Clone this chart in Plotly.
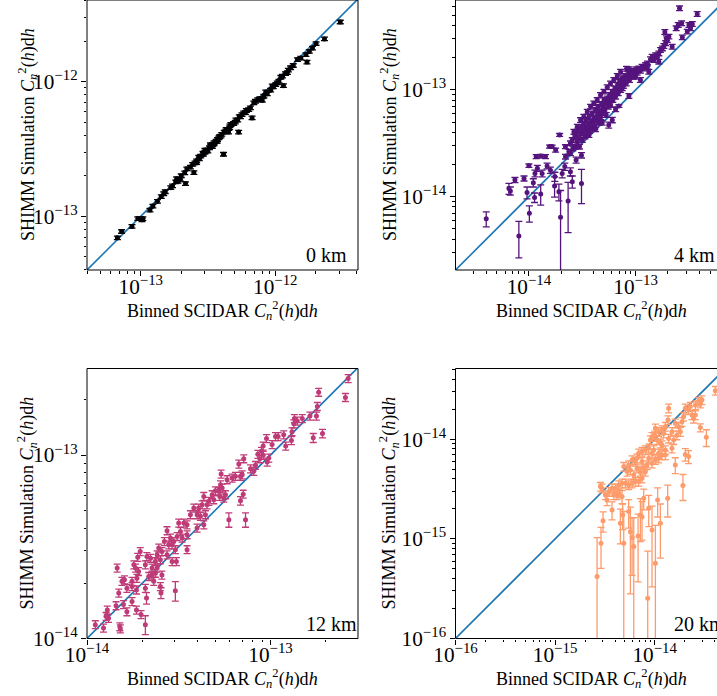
import plotly.graph_objects as go

FONT = "Liberation Serif"
W, H = 717, 696

# ---------------- 0 km ----------------
x0 = [6.7e-14, 7.2e-14, 8.6e-14, 9.5e-14, 1.035e-13, 1.02e-13, 1.17e-13, 1.23e-13, 1.33e-13, 1.42e-13,
      1.48e-13, 1.52e-13, 1.67e-13, 1.72e-13, 1.82e-13, 1.89e-13, 1.97e-13, 2.15e-13, 2.12e-13, 2.34e-13,
      2.48e-13, 2.43e-13, 2.53e-13, 2.60e-13, 2.72e-13, 2.79e-13, 2.92e-13, 3.00e-13, 3.09e-13, 3.24e-13,
      3.31e-13, 3.43e-13, 3.51e-13, 3.63e-13, 3.72e-13, 3.80e-13, 3.94e-13, 4.12e-13, 4.00e-13, 4.17e-13,
      4.32e-13, 4.49e-13, 4.57e-13, 4.68e-13, 4.90e-13, 5.04e-13, 5.34e-13, 5.25e-13, 5.50e-13, 5.65e-13,
      5.82e-13, 6.10e-13, 6.34e-13, 6.53e-13, 6.72e-13, 6.92e-13, 7.12e-13, 7.41e-13, 7.67e-13, 7.99e-13,
      8.22e-13, 8.71e-13, 9.23e-13, 9.66e-13, 1.006e-12, 1.035e-12, 1.065e-12, 1.15e-12, 1.13e-12, 1.19e-12,
      1.23e-12, 1.30e-12, 1.36e-12, 1.46e-12, 1.55e-12, 1.69e-12, 1.72e-12, 1.79e-12, 1.89e-12, 2.01e-12,
      2.32e-12, 3.04e-12,
      2.2e-13, 2.6e-13, 2.9e-13, 3.15e-13, 3.3e-13, 3.5e-13, 3.7e-13, 3.85e-13, 4.3e-13, 4.6e-13,
      5.1e-13, 5.4e-13, 6.0e-13, 2.0e-13, 1.85e-13, 2.7e-13, 3.0e-13, 3.4e-13, 1.1e-12, 1.25e-12,
      8.5e-13, 9.5e-13]
y0 = [6.9e-14, 7.7e-14, 8.4e-14, 9.6e-14, 9.6e-14, 9.4e-14, 1.11e-13, 1.19e-13, 1.29e-13, 1.40e-13,
      1.47e-13, 1.52e-13, 1.63e-13, 1.68e-13, 1.80e-13, 1.82e-13, 1.88e-13, 1.75e-13, 2.10e-13, 2.32e-13,
      2.11e-13, 2.43e-13, 2.49e-13, 2.58e-13, 2.67e-13, 2.80e-13, 2.88e-13, 2.99e-13, 3.10e-13, 3.23e-13,
      3.32e-13, 3.41e-13, 3.52e-13, 3.61e-13, 3.72e-13, 3.83e-13, 3.94e-13, 2.89e-13, 4.06e-13, 4.22e-13,
      4.42e-13, 4.22e-13, 4.54e-13, 4.81e-13, 4.89e-13, 5.00e-13, 4.22e-13, 5.18e-13, 5.48e-13, 5.70e-13,
      5.86e-13, 6.11e-13, 6.21e-13, 6.40e-13, 5.38e-13, 6.97e-13, 7.16e-13, 7.36e-13, 7.50e-13, 7.28e-13,
      7.80e-13, 8.13e-13, 8.65e-13, 9.15e-13, 9.52e-13, 9.80e-13, 1.01e-12, 9.35e-13, 1.10e-12, 1.15e-12,
      1.17e-12, 1.27e-12, 1.32e-12, 1.46e-12, 1.50e-12, 1.59e-12, 1.40e-12, 1.68e-12, 1.78e-12, 1.92e-12,
      2.08e-12, 2.78e-12,
      2.25e-13, 2.5e-13, 2.95e-13, 3.05e-13, 3.4e-13, 3.45e-13, 3.6e-13, 3.9e-13, 4.3e-13, 4.7e-13,
      5.2e-13, 5.5e-13, 5.9e-13, 2.0e-13, 1.9e-13, 2.75e-13, 3.1e-13, 3.3e-13, 1.08e-12, 1.22e-12,
      8.4e-13, 9.3e-13]

# ---------------- 4 km ----------------
x4 = [2.37e-14, 2.45e-14, 2.55e-14, 2.58e-14, 2.70e-14, 2.74e-14, 2.77e-14, 2.84e-14, 2.90e-14, 2.94e-14,
      2.98e-14, 3.05e-14, 3.11e-14, 3.16e-14, 3.21e-14, 3.27e-14, 3.35e-14, 3.40e-14, 3.44e-14, 3.52e-14,
      3.60e-14, 3.65e-14, 3.70e-14, 3.78e-14, 3.86e-14, 3.92e-14, 3.98e-14, 4.06e-14, 4.15e-14, 4.21e-14,
      4.28e-14, 4.37e-14, 4.46e-14, 4.53e-14, 4.59e-14, 4.69e-14, 4.80e-14, 4.86e-14, 4.93e-14, 5.05e-14,
      5.15e-14, 5.22e-14, 5.30e-14, 5.42e-14, 5.53e-14, 5.62e-14, 5.70e-14, 5.82e-14, 5.95e-14, 6.04e-14,
      6.12e-14, 6.25e-14, 6.40e-14, 6.49e-14, 6.62e-14, 6.78e-14, 6.87e-14, 6.97e-14, 7.07e-14, 7.23e-14,
      7.38e-14, 7.49e-14, 7.66e-14, 7.82e-14, 8.05e-14, 8.17e-14, 8.34e-14, 8.53e-14, 8.65e-14, 8.77e-14,
      8.97e-14, 9.16e-14, 9.43e-14, 9.64e-14, 9.84e-14, 1.01e-13, 1.035e-13, 1.07e-13, 1.11e-13, 1.15e-13,
      1.20e-13, 1.24e-13, 1.29e-13, 1.38e-13, 1.43e-13, 1.48e-13, 1.54e-13, 1.60e-13, 1.65e-13, 1.71e-13,
      1.78e-13, 1.84e-13, 1.91e-13, 1.98e-13, 1.94e-13, 2.05e-13, 1.88e-13, 2.40e-13, 2.51e-13, 2.70e-13,
      3.16e-13, 3.27e-13, 3.05e-13, 3.40e-13, 2.58e-13, 3.78e-13,
      2.64e-14, 2.84e-14, 3.05e-14, 3.27e-14, 3.52e-14, 3.78e-14, 4.06e-14, 4.37e-14, 4.69e-14, 5.05e-14,
      5.42e-14, 5.82e-14, 6.25e-14, 6.73e-14, 7.23e-14, 8.22e-14, 3.65e-14, 4.21e-14, 4.86e-14, 6.49e-14,
      8.65e-14, 1.11e-13, 1.33e-13, 1.65e-13, 2.20e-13, 2.74e-13, 2.45e-14, 2.20e-14, 3.52e-14, 4.53e-14,
      6.04e-14, 7.49e-14, 9.99e-14, 1.29e-13]
y4 = [2.64e-14, 3.16e-14, 3.39e-14, 2.83e-14, 3.65e-14, 2.94e-14, 3.92e-14, 3.27e-14, 4.21e-14, 3.52e-14,
      2.94e-14, 3.92e-14, 4.52e-14, 3.39e-14, 4.06e-14, 4.86e-14, 3.65e-14, 4.37e-14, 5.22e-14, 3.92e-14,
      4.69e-14, 5.61e-14, 4.15e-14, 5.04e-14, 4.37e-14, 6.03e-14, 4.79e-14, 5.42e-14, 4.52e-14, 6.49e-14,
      5.15e-14, 5.82e-14, 6.97e-14, 4.93e-14, 6.25e-14, 5.53e-14, 7.38e-14, 6.03e-14, 6.72e-14, 8.04e-14,
      6.49e-14, 7.48e-14, 5.82e-14, 8.34e-14, 6.97e-14, 7.76e-14, 8.96e-14, 7.23e-14, 8.51e-14, 9.64e-14,
      8.04e-14, 9.16e-14, 1.035e-13, 8.65e-14, 9.98e-14, 1.11e-13, 9.29e-14, 1.06e-13, 1.19e-13, 9.98e-14,
      1.15e-13, 1.29e-13, 1.09e-13, 1.24e-13, 1.35e-13, 1.15e-13, 1.29e-13, 1.41e-13, 1.56e-13, 1.24e-13,
      1.38e-13, 1.48e-13, 1.33e-13, 1.51e-13, 1.38e-13, 1.56e-13, 1.45e-13, 1.59e-13, 1.51e-13, 1.65e-13,
      1.59e-13, 1.71e-13, 1.77e-13, 1.94e-13, 2.05e-13, 1.91e-13, 2.12e-13, 2.02e-13, 2.20e-13, 2.37e-13,
      2.45e-13, 2.58e-13, 2.74e-13, 2.94e-13, 3.05e-13, 3.16e-13, 3.49e-13, 3.78e-13, 4.06e-13, 4.21e-13,
      4.06e-13, 3.78e-13, 3.52e-13, 4.15e-13, 5.82e-13, 5.15e-13,
      4.06e-14, 4.52e-14, 5.22e-14, 5.61e-14, 6.25e-14, 6.97e-14, 7.48e-14, 8.04e-14, 8.96e-14, 9.64e-14,
      1.06e-13, 1.15e-13, 1.24e-13, 1.35e-13, 1.48e-13, 1.58e-13, 3.78e-14, 4.27e-14, 4.93e-14, 6.58e-14,
      8.77e-14, 1.24e-13, 1.48e-13, 1.84e-13, 2.54e-13, 3.11e-13, 2.55e-14, 2.37e-14, 4.37e-14, 5.53e-14,
      8.04e-14, 1.035e-13, 1.33e-13, 1.65e-13]
# 4 km points with wide error bars
x4w = [3.98e-15, 8.05e-15, 1.98e-14, 2.33e-14, 3.11e-14, 1.01e-14, 1.13e-14, 1.29e-14, 1.74e-14, 1.91e-14,
       6.5e-15, 6.7e-15, 7.4e-15, 9.0e-15, 9.6e-15, 1.0e-14, 1.10e-14, 1.14e-14, 1.20e-14, 1.33e-14,
       1.43e-14, 1.48e-14, 1.59e-14, 1.75e-14, 2.05e-14, 2.17e-14, 2.45e-14, 2.55e-14, 2.77e-14, 3.11e-14,
       1.29e-14, 1.65e-14, 1.94e-14, 2.20e-14, 1.78e-14, 5.6e-14, 6.97e-14, 6.04e-14, 1.17e-14, 1.56e-14]
y4w = [6.2e-15, 4.27e-15, 6.4e-15, 9.1e-15, 1.33e-14, 6.97e-15, 9.8e-15, 1.06e-14, 1.26e-14, 1.11e-14,
       1.19e-14, 1.13e-14, 1.43e-14, 1.48e-14, 1.09e-14, 1.95e-14, 1.35e-14, 1.65e-14, 1.84e-14, 1.65e-14,
       2.37e-14, 1.94e-14, 1.77e-14, 1.54e-14, 1.65e-14, 1.91e-14, 1.71e-14, 1.38e-14, 2.20e-14, 2.44e-14,
       2.40e-14, 2.94e-14, 3.78e-14, 2.94e-14, 2.73e-14, 4.69e-14, 7.06e-14, 5.22e-14, 2.37e-14, 2.94e-14]
e4w = [1.0e-15, 1.6e-15, 5.0e-15, 4.5e-15, 4.7e-15, 1.2e-15, 1.0e-15, 2.3e-15, 2.7e-15, 2.0e-15,
       1.4e-15, 1.0e-15, 0.8e-15, 0.8e-15, 1.4e-15, 0.7e-15, 1.2e-15, 1.2e-15, 1.2e-15, 1.2e-15,
       1.0e-15, 1.2e-15, 1.2e-15, 1.5e-15, 1.5e-15, 1.5e-15, 1.5e-15, 1.8e-15, 1.4e-15, 1.4e-15,
       0.9e-15, 1.0e-15, 1.2e-15, 1.2e-15, 1.2e-15, 3.0e-15, 2.0e-15, 3.0e-15, 1.0e-15, 1.0e-15]

# ---------------- 12 km ----------------
x12 = [2.65e-13, 2.56e-13, 1.83e-13, 1.80e-13, 1.78e-13, 1.64e-13, 1.49e-13, 1.35e-13, 1.40e-13, 1.31e-13,
       1.34e-13, 1.30e-13, 1.21e-13, 1.18e-13, 1.10e-13, 1.065e-13, 9.51e-14, 9.12e-14, 8.93e-14, 1.02e-13,
       9.79e-14, 9.59e-14, 9.12e-14, 8.75e-14, 8.53e-14, 8.28e-14, 8.11e-14, 7.78e-14, 7.15e-14, 6.72e-14,
       7.01e-14, 6.86e-14, 6.44e-14, 6.18e-14, 5.80e-14, 5.38e-14, 5.34e-14, 5.45e-14, 5.23e-14, 5.01e-14,
       4.81e-14, 4.91e-14, 5.68e-14, 5.57e-14, 5.29e-14, 7.10e-14, 4.33e-14, 4.24e-14, 4.51e-14, 4.61e-14,
       4.06e-14, 3.82e-14, 3.98e-14, 4.15e-14, 4.42e-14, 3.66e-14, 3.51e-14, 3.37e-14, 3.16e-14, 3.23e-14,
       3.51e-14, 3.30e-14, 3.10e-14, 2.97e-14, 2.85e-14, 2.73e-14, 2.79e-14, 2.64e-14, 2.56e-14, 2.46e-14,
       2.41e-14, 2.51e-14, 2.36e-14, 2.22e-14, 2.12e-14, 2.08e-14, 1.95e-14, 1.89e-14, 1.80e-14, 1.91e-14,
       1.84e-14, 1.76e-14, 1.87e-14, 2.26e-14, 2.41e-14, 2.56e-14, 2.73e-14, 2.91e-14, 3.07e-14, 3.51e-14,
       3.98e-14, 4.33e-14, 2.91e-14, 3.03e-14, 1.46e-14, 1.55e-14, 1.60e-14, 1.49e-14, 1.65e-14, 1.76e-14,
       1.86e-14, 2.08e-14, 2.31e-14, 2.51e-14, 1.58e-14, 1.76e-14, 1.86e-14, 1.65e-14, 1.44e-14, 1.29e-14,
       1.27e-14, 1.31e-14, 1.23e-14, 1.11e-14, 1.51e-14, 1.52e-14, 1.97e-14, 2.26e-14, 2.17e-14, 2.36e-14]
y12 = [2.61e-13, 2.06e-13, 2.20e-13, 1.84e-13, 1.63e-13, 1.63e-13, 1.58e-13, 1.58e-13, 1.53e-13, 1.34e-13,
       1.48e-13, 1.20e-13, 1.12e-13, 1.29e-13, 1.26e-13, 1.26e-13, 1.23e-13, 1.12e-13, 1.047e-13, 1.14e-13,
       9.63e-14, 9.16e-14, 9.96e-14, 9.55e-14, 1.01e-13, 8.78e-14, 8.15e-14, 8.42e-14, 9.55e-14, 8.93e-14,
       7.81e-14, 7.65e-14, 7.65e-14, 7.49e-14, 7.34e-14, 7.88e-14, 6.89e-14, 6.61e-14, 6.34e-14, 6.39e-14,
       6.08e-14, 5.71e-14, 6.08e-14, 5.83e-14, 5.95e-14, 6.12e-14, 5.95e-14, 5.36e-14, 5.36e-14, 5.59e-14,
       5.14e-14, 5.14e-14, 4.73e-14, 4.63e-14, 4.73e-14, 4.73e-14, 4.17e-14, 4.26e-14, 4.26e-14, 3.83e-14,
       3.68e-14, 3.53e-14, 3.60e-14, 3.38e-14, 3.53e-14, 3.87e-14, 3.24e-14, 3.38e-14, 2.98e-14, 3.11e-14,
       2.86e-14, 2.69e-14, 2.63e-14, 2.74e-14, 2.80e-14, 2.52e-14, 2.98e-14, 2.77e-14, 2.52e-14, 2.32e-14,
       2.42e-14, 2.05e-14, 2.13e-14, 2.42e-14, 2.42e-14, 2.22e-14, 2.86e-14, 2.63e-14, 2.63e-14, 3.05e-14,
       4.00e-14, 4.17e-14, 3.24e-14, 3.05e-14, 2.42e-14, 2.05e-14, 2.09e-14, 1.77e-14, 1.88e-14, 1.92e-14,
       1.84e-14, 1.88e-14, 2.05e-14, 1.92e-14, 1.53e-14, 1.59e-14, 1.43e-14, 1.40e-14, 1.51e-14, 1.43e-14,
       1.32e-14, 1.29e-14, 1.14e-14, 1.19e-14, 1.16e-14, 1.13e-14, 1.35e-14, 2.22e-14, 2.18e-14, 2.27e-14]
# 12 km points with wide error bars
x12w = [1.71e-13, 1.92e-13, 6.86e-14, 5.93e-14, 7.31e-14, 2.11e-14, 2.53e-14, 3.03e-14, 2.08e-14]
y12w = [1.24e-13, 1.31e-13, 5.63e-14, 4.44e-14, 4.44e-14, 1.66e-14, 1.77e-14, 1.82e-14, 1.19e-14]
e12w = [7e-15, 7e-15, 3e-15, 4e-15, 4e-15, 1.2e-15, 1.2e-15, 2.2e-15, 1.4e-15]

# ---------------- 20 km ----------------
x20 = [4.06e-14, 2.98e-14, 2.87e-14, 2.76e-14, 2.56e-14, 2.28e-14, 2.19e-14, 2.03e-14, 2.56e-14, 2.46e-14,
       2.37e-14, 1.95e-14, 1.88e-14, 1.74e-14, 1.61e-14, 1.38e-14, 1.36e-14, 1.28e-14, 1.185e-14, 1.23e-14,
       1.096e-14, 1.016e-14, 1.0e-14, 9.40e-15, 9.05e-15, 1.055e-14, 1.14e-14, 1.38e-14, 1.55e-14, 1.49e-14,
       1.28e-14, 1.185e-14, 1.096e-14, 9.77e-15, 8.71e-15, 8.06e-15, 7.46e-15, 6.91e-15, 6.65e-15, 6.40e-15,
       5.93e-15, 5.48e-15, 4.89e-15, 5.28e-15, 5.70e-15, 6.16e-15, 6.65e-15, 7.18e-15, 7.76e-15, 8.38e-15,
       9.40e-15, 1.016e-14, 8.71e-15, 1.096e-14, 1.28e-14, 8.06e-15, 7.46e-15, 6.91e-15,
       6.40e-15, 5.93e-15, 5.48e-15, 5.08e-15, 4.70e-15, 4.35e-15, 4.03e-15, 3.73e-15, 3.88e-15, 4.19e-15,
       4.35e-15, 3.46e-15, 3.20e-15, 2.96e-15, 2.85e-15, 1.49e-14, 1.67e-14, 1.81e-14, 7.46e-15, 9.40e-15,
       1.185e-14]
y20 = [3.08e-14, 2.48e-14, 2.30e-14, 2.39e-14, 2.21e-14, 2.13e-14, 1.97e-14, 2.05e-14, 1.75e-14, 1.62e-14,
       1.75e-14, 1.69e-14, 1.50e-14, 1.34e-14, 1.45e-14, 2.05e-14, 1.56e-14, 1.34e-14, 1.24e-14, 1.15e-14,
       1.19e-14, 1.29e-14, 1.10e-14, 1.06e-14, 9.85e-15, 9.85e-15, 9.12e-15, 1.02e-14, 9.85e-15, 8.12e-15,
       7.81e-15, 6.96e-15, 7.24e-15, 7.81e-15, 8.12e-15, 7.81e-15, 7.52e-15, 7.24e-15, 6.45e-15, 5.97e-15,
       6.21e-15, 5.53e-15, 5.32e-15, 4.74e-15, 4.92e-15, 4.39e-15, 5.12e-15, 4.74e-15, 5.12e-15, 5.53e-15,
       5.74e-15, 6.21e-15, 6.45e-15, 6.45e-15, 6.96e-15, 4.74e-15, 4.06e-15, 3.76e-15,
       3.76e-15, 3.62e-15, 3.48e-15, 3.62e-15, 3.62e-15, 3.48e-15, 3.22e-15, 3.22e-15, 2.76e-15, 2.76e-15,
       2.87e-15, 2.98e-15, 2.76e-15, 3.22e-15, 3.35e-15, 1.19e-14, 1.10e-14, 1.19e-14, 5.97e-15, 7.24e-15,
       8.77e-15]
# 20 km points with wide error bars
x20w = [2.64e-15, 2.89e-15, 3.03e-15, 4.52e-15, 4.89e-15, 5.70e-15, 6.16e-15, 6.81e-15, 8.51e-15, 1.016e-14,
        9.40e-15, 1.07e-14, 1.14e-14, 1.35e-14, 1.92e-14, 3.30e-14, 2.87e-14, 2.03e-14, 2.19e-14, 1.61e-14,
        5.48e-15, 7.46e-15, 4.77e-15, 3.73e-15, 8.71e-15, 7.76e-15, 4.70e-15, 7.18e-15, 5.93e-15, 3.32e-15]
y20w = [4.19e-16, 9.05e-16, 1.52e-15, 1.44e-15, 9.05e-16, 1.18e-15, 8.38e-16, 1.07e-15, 2.54e-16, 5.70e-16,
        1.23e-15, 2.46e-15, 1.44e-15, 2.56e-15, 3.43e-15, 1.047e-14, 1.31e-14, 7.05e-15, 6.70e-15, 5.53e-15,
        1.88e-15, 1.67e-15, 1.74e-15, 1.95e-15, 2.03e-15, 2.56e-15, 2.66e-15, 1.74e-15, 1.03e-15, 2.46e-15]
e20w = [6.1e-16, 4.0e-16, 3.5e-16, 5.5e-16, 9.8e-16, 9.0e-16, 8.0e-16, 7.0e-16, 5.0e-16, 8.0e-16,
        9.0e-16, 8.0e-16, 8.0e-16, 9.0e-16, 1.0e-15, 2.0e-15, 1.2e-15, 1.0e-15, 1.0e-15, 1.0e-15,
        6.0e-16, 7.0e-16, 5.0e-16, 4.0e-16, 7.0e-16, 6.0e-16, 4.0e-16, 8.0e-16, 6.0e-16, 3.0e-16]

labels = ["0 km", "4 km", "12 km", "20 km"]
colors = ["#000004", "#55147d", "#bf3b77", "#fd9b6b"]

# per-panel data: (x, y, % error of the tight points, wide x, wide y, wide err)
panel_data = [
    (x0, y0, 3, [], [], []),
    (x4, y4, 5, x4w, y4w, e4w),
    (x12, y12, 5, x12w, y12w, e12w),
    (x20, y20, 10, x20w, y20w, e20w),
]

# panel geometry in pixels: left, top, full width, height, log10 lower limit, px per decade,
# and the x position of the rotated y-axis title
geom = [
    (87.0, 0.0, 271.0, 270.0, -13.40, 134.5, 27.0),
    (455.5, 0.0, 271.0, 270.0, -14.688, 106.7, 389.0),
    (87.0, 368.5, 271.0, 270.0, -14.0, 183.5, 27.0),
    (455.5, 368.5, 271.0, 270.0, -16.0, 99.6, 389.0),
]

CN2 = "<i>C</i><sub><i>n</i></sub><sup>2</sup>(<i>h</i>)d<i>h</i>"

fig = go.Figure()
layout = dict(width=W, height=H, margin=dict(l=0, r=0, t=0, b=0, autoexpand=False),
              plot_bgcolor="white", paper_bgcolor="white", showlegend=False,
              font=dict(family=FONT, size=17, color="black"))
shapes, annotations = [], []

for i, ((tx, ty, tpct, wx, wy, we), (left, top, width, height, lo, ppd, ytx), col, lab) in enumerate(
        zip(panel_data, geom, colors, labels)):
    assert len(tx) == len(ty) and len(wx) == len(wy) == len(we)
    sfx = "" if i == 0 else str(i + 1)
    xa, ya = "x" + sfx, "y" + sfx
    right_vis = min(left + width, W)
    xdom = [left / W, right_vis / W]
    ydom = [1 - (top + height) / H, 1 - top / H]
    xhi = lo + (right_vis - left) / ppd
    yhi = lo + height / ppd
    full_hi = lo + width / ppd

    ax_common = dict(type="log", showgrid=False, zeroline=False, showline=False,
                     ticks="outside", ticklen=5, tickwidth=1, tickcolor="black", dtick=1,
                     exponentformat="power", showexponent="all",
                     tickfont=dict(family=FONT, size=17, color="black"),
                     minor=dict(ticks="outside", ticklen=2.5, tickwidth=0.8, tickcolor="black",
                                dtick="D1", showgrid=False))
    layout["xaxis" + sfx] = dict(ax_common, range=[lo, xhi], domain=xdom, anchor=ya,
                                 ticklabelstandoff=-7)
    layout["yaxis" + sfx] = dict(ax_common, range=[lo, yhi], domain=ydom, anchor=xa)

    # one-to-one reference line across the panel
    one = [10 ** lo, 10 ** full_hi]
    fig.add_trace(go.Scatter(x=one, y=one, mode="lines", line=dict(color="#1f77b4", width=1.6),
                             xaxis=xa, yaxis=ya, hoverinfo="skip"))
    fig.add_trace(go.Scatter(x=tx, y=ty, mode="markers", xaxis=xa, yaxis=ya,
                             marker=dict(color=col, size=5),
                             error_y=dict(type="percent", value=tpct, color=col, thickness=1.3, width=3.5)))
    if wx:
        fig.add_trace(go.Scatter(x=wx, y=wy, mode="markers", xaxis=xa, yaxis=ya,
                                 marker=dict(color=col, size=5),
                                 error_y=dict(type="data", array=we, color=col, thickness=1.3, width=3.5)))

    # axes frame (right edge of the right-hand panels falls outside the page)
    shapes.append(dict(type="rect", xref="paper", yref="paper", layer="above",
                       x0=left / W, x1=(left + width) / W, y0=ydom[0], y1=ydom[1],
                       line=dict(color="black", width=1)))

    cx = (left + width / 2) / W
    cy = 1 - (top + height / 2) / H
    annotations.append(dict(text="Binned SCIDAR " + CN2,
                            xref="paper", yref="paper", x=cx, y=1 - (top + height + 40) / H,
                            xanchor="center", yanchor="middle", showarrow=False,
                            font=dict(family=FONT, size=18)))
    annotations.append(dict(text="SHIMM Simulation " + CN2,
                            xref="paper", yref="paper", x=ytx / W, y=cy, textangle=-90,
                            xanchor="center", yanchor="middle", showarrow=False,
                            font=dict(family=FONT, size=18)))
    annotations.append(dict(text=lab, xref="paper", yref="paper",
                            x=(left + 0.8 * width) / W, y=1 - (top + height - 15) / H,
                            xanchor="left", yanchor="middle", showarrow=False,
                            font=dict(family=FONT, size=20)))

layout["shapes"] = shapes
layout["annotations"] = annotations
fig.update_layout(**layout)
fig.write_html("out.html")
